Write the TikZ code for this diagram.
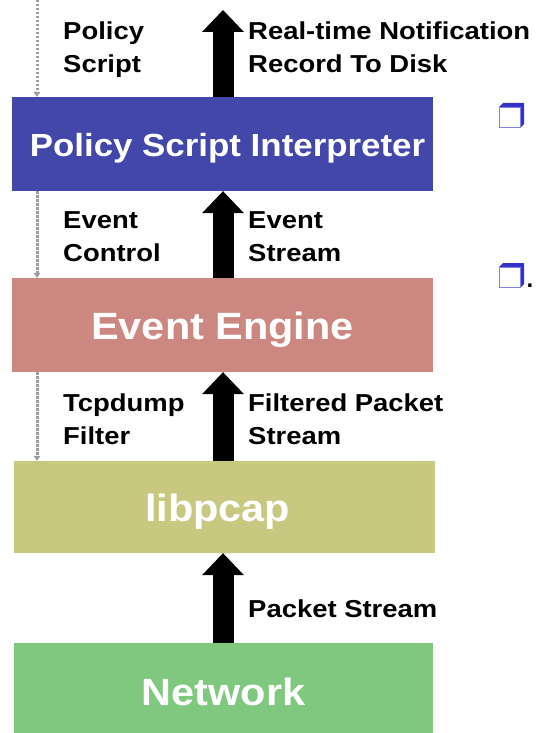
\documentclass[tikz,border=0pt]{standalone}
\usepackage{fontspec}
\setmainfont{Liberation Sans}
\usepackage{graphicx}
\usetikzlibrary{arrows.meta}
\definecolor{psiblue}{RGB}{67,71,170}
\definecolor{eered}{RGB}{204,136,128}
\definecolor{lpolive}{RGB}{200,200,128}
\definecolor{netgreen}{RGB}{128,200,128}
\definecolor{dotgray}{RGB}{155,155,155}
\definecolor{bulletdark}{RGB}{51,51,204}
\definecolor{bulletlight}{RGB}{128,128,240}
\newcommand{\hx}[2]{\scalebox{#1}[1]{#2}}
\newcommand{\twolines}[2]{\hx{1.12}{\begin{tabular}[t]{@{}l@{}}#1\\#2\end{tabular}}}
\begin{document}
\begin{tikzpicture}[x=1pt,y=-1pt,
  layerbox/.style={rectangle, inner sep=0pt, minimum width=421pt, minimum height=94pt,
    text=white, text depth=0pt, text height=29pt, font=\bfseries\fontsize{38}{38}\selectfont},
  lbl/.style={anchor=base west, inner sep=0pt, font=\bfseries\fontsize{24.5}{33.5}\selectfont},
  flow/.style={line width=21pt, -{Triangle[width=42pt,length=22pt,line width=0pt]}},
  ctrl/.style={dotgray, line width=3pt, dash pattern=on 2.4pt off 1.6pt,
    -{Triangle[width=7pt,length=5pt,line width=0pt]}},
]
\useasboundingbox (0,0) rectangle (536,733);

% layers
\node[layerbox, fill=psiblue, text height=26pt, font=\bfseries\fontsize{32}{32}\selectfont] (psi) at (222.5,144) {\hspace*{10pt}\hx{1.09}{Policy Script Interpreter}};
\node[layerbox, fill=eered] (ee) at (222.5,325) {\hx{1.09}{Event Engine}};
\node[layerbox, fill=lpolive, minimum height=92pt] (lp) at (224.5,507) {\hx{1.09}{libpcap}\hspace*{14pt}};
\node[layerbox, fill=netgreen, minimum width=419pt, minimum height=90pt, text height=35pt] (net) at (223.5,688) {\hx{1.09}{Network}};

% data flow arrows
\coordinate (flowtop) at (223,10);
\draw[flow] (psi.north -| flowtop) -- (flowtop);
\draw[flow] (ee.north -| flowtop) -- (psi.south -| flowtop);
\draw[flow] (lp.north -| flowtop) -- (ee.south -| flowtop);
\draw[flow] (net.north -| flowtop) -- (lp.south -| flowtop);

% control arrows
\coordinate (ctrltop) at (37,0);
\draw[ctrl] (ctrltop) -- (ctrltop |- psi.north);
\draw[ctrl] (ctrltop |- psi.south) -- (ctrltop |- ee.north);
\draw[ctrl] (ctrltop |- ee.south) -- (ctrltop |- lp.north);

% labels
\node[lbl] (lpol) at (63,39.3) {\twolines{Policy}{Script}};
\node[lbl] (lrt) at (248,39.3) {\twolines{Real-time Notification}{Record To Disk}};
\node[lbl] (lec) at (63,228.3) {\twolines{Event}{Control}};
\node[lbl] (les) at (248,228.3) {\twolines{Event}{Stream}};
\node[lbl] (ltf) at (63,411) {\twolines{Tcpdump}{Filter}};
\node[lbl] (lfp) at (248,411) {\twolines{Filtered Packet}{Stream}};
\node[lbl] (lps) at (248,617.7) {\hx{1.12}{Packet Stream}};

% bullets
\fill[bulletdark] (499,107) -- (503,103) -- (524,103) -- (524,124) -- (520,128) -- cycle;
\filldraw[fill=white, draw=bulletlight, line width=1pt] (499.5,107.5) rectangle (520,127.5);
\fill[bulletdark] (499,267) -- (503,263) -- (524,263) -- (524,284) -- (520,288) -- cycle;
\filldraw[fill=white, draw=bulletlight, line width=1pt] (499.5,267.5) rectangle (520,287.5);
\node[anchor=base west, inner sep=0pt, font=\bfseries\fontsize{24}{24}\selectfont] (dot) at (526.5,287) {.};
\end{tikzpicture}
\end{document}
